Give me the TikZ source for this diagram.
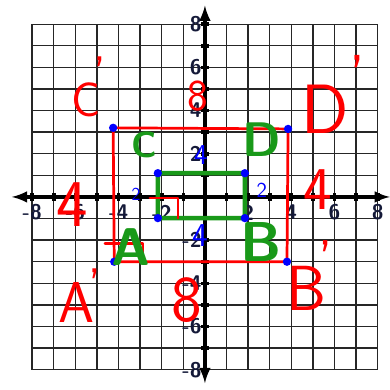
\documentclass[tikz,border=0pt]{standalone}
\usepackage{fontspec}
\usepackage{tikz}
\usetikzlibrary{arrows,positioning}
\definecolor{penred}{rgb}{1,0,0}
\definecolor{pengreen}{rgb}{0.1,0.6,0.1}
\definecolor{penblue}{rgb}{0,0,1}
\definecolor{axisink}{rgb}{0.08,0.1,0.22}

\begin{document}
\begin{tikzpicture}[x=0.5cm,y=0.5cm,>=latex,
    gridline/.style={black!85,line width=0.9pt},
    axisline/.style={black,line width=2.4pt},
    ticklabel/.style={text=axisink,font=\fontsize{14}{14}\sffamily\bfseries,inner sep=0pt},
    redpen/.style={penred,line width=1.8pt,line cap=round,line join=round},
    greenpen/.style={pengreen,line width=3pt,line cap=round,line join=round,rounded corners=2pt},
    bluedot/.style={circle,fill=penblue,inner sep=0pt,minimum size=5.5pt},
    redlabel/.style={text=penred,inner sep=0pt},
    greenlabel/.style={text=pengreen,inner sep=0pt},
    bluelabel/.style={text=penblue,inner sep=0pt}]
    \useasboundingbox (-9.49,-8.94) rectangle (8.56,9.12);
    % grid and axes
    \draw[gridline,step=0.5cm] (-8,-8) grid (8,8);
    \draw[axisline,<->] (-8.94,0) -- (8.56,0);
    \draw[axisline,<->] (0,-8.62) -- (0,8.86);
    \foreach \i in {-8,...,-1,1,2,...,8} {
        \draw[axisline] (\i,-0.18) -- (\i,0.18);
        \draw[axisline] (-0.18,\i) -- (0.18,\i);
    }
    \foreach \i in {-8,-6,-4,-2,2,4,6,8} {
        \node[ticklabel] (xl\i) at (\i,-0.72) {\i};
        \node[ticklabel,anchor=east] (yl\i) at (-0.14,\i) {\i};
    }
    % image A'B'D'C'
    \coordinate (cp) at (-4.25,3.2);
    \coordinate (dp) at (3.85,3.15);
    \coordinate (bp) at (3.8,-3.0);
    \coordinate (ap) at (-4.2,-3.0);
    \draw[redpen] (cp) -- (dp) -- (bp) -- (ap) -- cycle;
    % original ABDC
    \coordinate (c) at (-2.18,1.1);
    \coordinate (d) at (1.85,1.1);
    \coordinate (b) at (1.85,-0.98);
    \coordinate (a) at (-2.18,-0.98);
    \draw[greenpen] (c) -- (d) -- (b) -- (a) -- cycle;
    \foreach \p in {cp,dp,bp,ap,c,d,b,a}
        \node[bluedot] (dot\p) at (\p) {};
    % stray marks
    \draw[redpen] (-2.55,-0.05) -- (-1.25,-0.05) -- (-1.25,-0.98);
    \draw[redpen] (-4.63,-2.14) -- (-2.87,-2.14) -- (-2.87,-3.07);
    % side lengths
    \node[redlabel,font=\fontsize{29}{29}\sffamily] (topeight) at (-0.32,4.65) {8};
    \node[redlabel,font=\fontsize{43}{43}\sffamily] (boteight) at (-0.83,-4.79) {8};
    \node[redlabel,font=\fontsize{44}{44}\sffamily] (leftfour) at (-6.16,-0.37) {4};
    \node[redlabel,font=\fontsize{40}{40}\sffamily] (rightfour) at (5.23,0.33) {4};
    \node[bluelabel,font=\fontsize{19}{19}\sffamily] (topfour) at (-0.19,1.95) {4};
    \node[bluelabel,font=\fontsize{22}{22}\sffamily] (botfour) at (-0.19,-1.77) {4};
    \node[bluelabel,font=\fontsize{12}{12}\sffamily] (lefttwo) at (-3.19,0.14) {2};
    \node[bluelabel,font=\fontsize{14}{14}\sffamily] (righttwo) at (2.64,0.33) {2};
    % vertex names
    \node[redlabel,font=\fontsize{32}{32}\sffamily] (cpl) at (-5.5,4.5) {C};
    \node[redlabel,font=\fontsize{32}{32}\sffamily] (cpm) at (-4.86,5.7) {'};
    \node[redlabel,font=\fontsize{46}{46}\sffamily] (dpl) at (5.56,4.05) {D};
    \node[redlabel,font=\fontsize{40}{40}\sffamily] (dpm) at (7.08,5.6) {'};
    \node[redlabel,font=\fontsize{38}{38}\sffamily] (apl) at (-5.93,-4.88) {A};
    \node[redlabel,font=\fontsize{32}{32}\sffamily] (apm) at (-5.1,-4.1) {'};
    \node[redlabel,font=\fontsize{42}{42}\sffamily] (bpl) at (4.72,-4.23) {B};
    \node[redlabel,font=\fontsize{36}{36}\sffamily] (bpm) at (5.6,-2.9) {'};
    \node[greenlabel,font=\fontsize{24}{24}\sffamily\bfseries] (cl) at (-2.82,2.42) {C};
    \node[greenlabel,font=\fontsize{32}{32}\sffamily\bfseries] (dl) at (2.64,2.65) {D};
    \node[greenlabel,font=\fontsize{35}{35}\sffamily\bfseries] (al) at (-3.43,-2.33) {A};
    \node[greenlabel,font=\fontsize{37}{37}\sffamily\bfseries] (bl) at (2.6,-2.08) {B};
\end{tikzpicture}
\end{document}
